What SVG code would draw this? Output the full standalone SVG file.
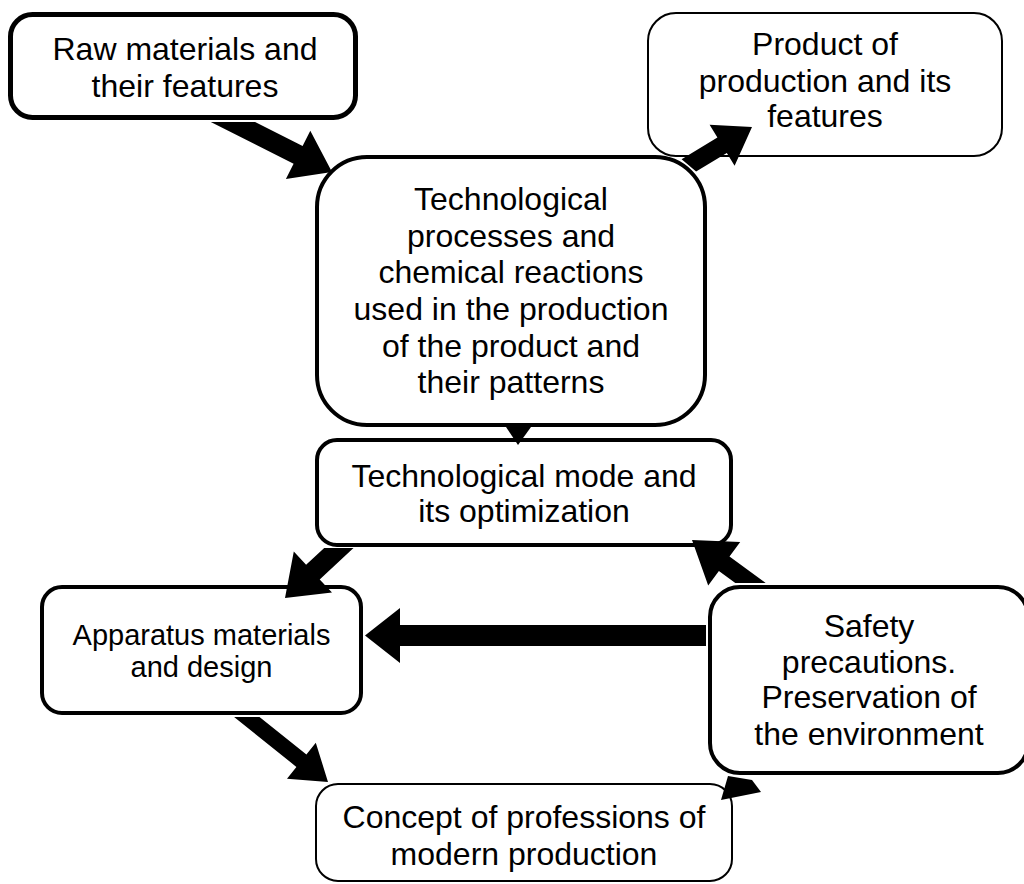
<svg xmlns="http://www.w3.org/2000/svg" width="1024" height="884" viewBox="0 0 1024 884">
  <style>
    .box { fill: #ffffff; stroke: #000000; }
    .heavy { stroke-width: 5; }
    .bold { stroke-width: 4; }
    .thin { stroke-width: 2; }
    .label { font-family: "Liberation Sans", Arial, sans-serif; font-size: 32px; fill: #000000; text-anchor: middle; }
    .small { font-size: 29px; }
    .arrow { fill: #000000; stroke: none; }
  </style>
  <rect width="1024" height="884" fill="#ffffff"/>

  <g id="raw-materials">
    <rect class="box heavy" x="10.5" y="14.5" width="345" height="103" rx="22"/>
    <text class="label" x="185" y="60">Raw materials and</text>
    <text class="label" x="185" y="97">their features</text>
  </g>

  <g id="product">
    <rect class="box thin" x="648" y="13" width="354" height="143" rx="28"/>
    <text class="label" x="825" y="55">Product of</text>
    <text class="label" x="825" y="91.7">production and its</text>
    <text class="label" x="825" y="126.7">features</text>
  </g>

  <g id="processes">
    <rect class="box bold" x="317" y="157" width="388" height="268" rx="50"/>
    <text class="label" x="511" y="210">Technological</text>
    <text class="label" x="511" y="246.7">processes and</text>
    <text class="label" x="511" y="283.3">chemical reactions</text>
    <text class="label" x="511" y="320">used in the production</text>
    <text class="label" x="511" y="356.7">of the product and</text>
    <text class="label" x="511" y="393.3">their patterns</text>
  </g>

  <g id="mode">
    <rect class="box bold" x="317" y="440" width="414" height="105" rx="20"/>
    <text class="label" x="524" y="486.7">Technological mode and</text>
    <text class="label" x="524" y="521.7">its optimization</text>
  </g>

  <g id="apparatus">
    <rect class="box bold" x="42" y="587" width="319" height="126" rx="20"/>
    <text class="label small" x="201.5" y="645">Apparatus materials</text>
    <text class="label small" x="201.5" y="677.3">and design</text>
  </g>

  <g id="safety">
    <rect class="box bold" x="710" y="587" width="318" height="186" rx="30"/>
    <text class="label" x="869" y="636.7">Safety</text>
    <text class="label" x="869" y="673.3">precautions.</text>
    <text class="label" x="869" y="708.3">Preservation of</text>
    <text class="label" x="869" y="745">the environment</text>
  </g>

  <g id="professions">
    <rect class="box thin" x="316" y="784" width="416" height="97" rx="22"/>
    <text class="label" x="524" y="828.3">Concept of professions of</text>
    <text class="label" x="524" y="865">modern production</text>
  </g>

  <g id="connectors">
    <!-- raw materials -> processes -->
    <polygon class="arrow" points="210.8,122 255.1,122 302.6,146 310.3,130.8 332,172 285.9,179 293.6,163.8"/>
    <!-- processes -> product -->
    <polygon class="arrow" points="681.6,159.3 717.4,137.5 709.6,124.7 752,127 734.6,165.7 726.8,152.9 696.1,171.6"/>
    <!-- processes -> mode -->
    <polygon class="arrow" points="506,427 531,427 518,445"/>
    <!-- mode -> apparatus -->
    <polygon class="arrow" points="324.2,548 353.5,548 319.7,579.4 332,592.6 285,598 293.8,551.6 306.1,564.8"/>
    <!-- safety -> mode -->
    <polygon class="arrow" points="735.3,583 718.9,571 708.2,585.5 692,540 740.2,541.9 729.5,556.4 765.7,583"/>
    <!-- safety -> apparatus -->
    <polygon class="arrow" points="706,625 400,625 400,608 365,635.5 400,663 400,646 706,646"/>
    <!-- apparatus -> professions -->
    <polygon class="arrow" points="234.1,717 259.5,717 306.4,754.5 315.8,742.7 328,782 287,778.7 296.4,766.9"/>
    <!-- professions -> safety -->
    <polygon class="arrow" points="721,800 728,776 752,780 761,792"/>
  </g>
</svg>
